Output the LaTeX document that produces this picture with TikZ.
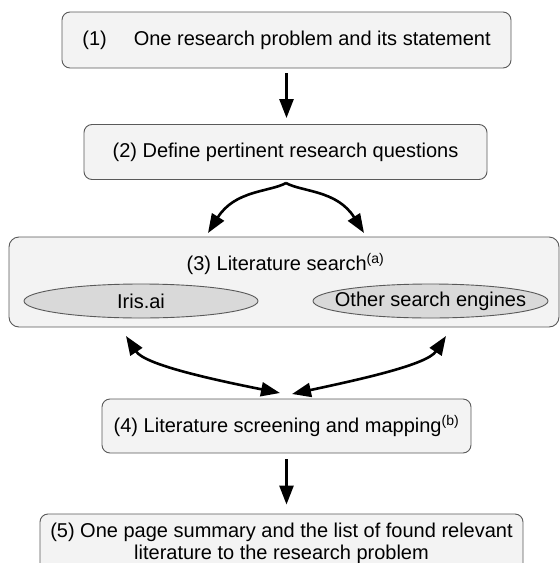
\documentclass[tikz,border=0pt]{standalone}
\usepackage{fontspec}
\setmainfont{Liberation Sans}
\usepackage{tikz}
\usetikzlibrary{arrows.meta,positioning,shapes.geometric}
\definecolor{boxfill}{HTML}{F3F3F3}
\definecolor{boxline}{HTML}{595959}
\definecolor{ovalfill}{HTML}{D9D9D9}
\begin{document}
\begin{tikzpicture}[
  x=1pt,y=-1pt,
  box/.style={draw=boxline,fill=boxfill,rounded corners=8pt,line width=0.9pt,
    align=center,inner sep=0pt,font=\fontsize{20pt}{22pt}\selectfont},
  oval/.style={ellipse,draw=boxline,fill=ovalfill,line width=0.9pt,inner sep=0pt,
    minimum height=34pt},
  ovaltext/.style={inner sep=0pt,font=\fontsize{20pt}{22pt}\selectfont},
  arrow/.style={-{Triangle[length=19pt,width=14pt]},line width=2.6pt},
  twoway/.style={{Triangle[length=19pt,width=14pt]}-{Triangle[length=19pt,width=14pt]},line width=2.6pt}
]
\useasboundingbox (0,0) rectangle (560,563);
\clip (0,0) rectangle (560,563);
\node[box,minimum width=449pt,minimum height=56pt] (q1) at (286.5,40)
  {(1)\hspace{27pt}One research problem and its statement};
\node[box,minimum width=403pt,minimum height=55pt] (q2) at (285.5,152)
  {(2) Define pertinent research questions};
\node[box,rounded corners=10pt,minimum width=550pt,minimum height=90pt] (q3) at (284,282) {};
\node[font=\fontsize{20pt}{22pt}\selectfont] (title3) at (285.5,264)
  {(3) Literature search\textsuperscript{(a)}};
\node[oval,minimum width=234pt,label={[ovaltext]center:Iris.ai}] (iris) at (141,301) {};
\node[oval,minimum width=235pt,label={[ovaltext]center:Other search engines}] (other) at (430.5,301) {};
\node[box,minimum width=369pt,minimum height=54pt] (q4) at (286.5,426)
  {(4) Literature screening and mapping\textsuperscript{(b)}};
\node[box,minimum width=483pt,minimum height=59pt] (q5) at (281.5,543.5)
  {(5) One page summary and the list of found relevant\\
   literature to the research problem};
\draw[arrow,shorten <=5pt,shorten >=6pt] (q1.south) -- (q1.south |- q2.north);
\coordinate (fork) at (286,183);
\coordinate (in3l) at (208,233);
\coordinate (in3r) at (364,233);
\draw[arrow] (fork) .. controls (270,192) and (235,190) .. (in3l);
\draw[arrow] (fork) .. controls (302,192) and (337,190) .. (in3r);
\coordinate (out3l) at (126,336);
\coordinate (out3r) at (446,336);
\coordinate (in4l) at (280,393);
\coordinate (in4r) at (292,394);
\draw[twoway] (out3l) .. controls (145,365) and (215,380) .. (in4l);
\draw[twoway] (out3r) .. controls (427,365) and (357,380) .. (in4r);
\draw[arrow,shorten <=6pt,shorten >=9pt] (q4.south) -- (q4.south |- q5.north);
\end{tikzpicture}
\end{document}
